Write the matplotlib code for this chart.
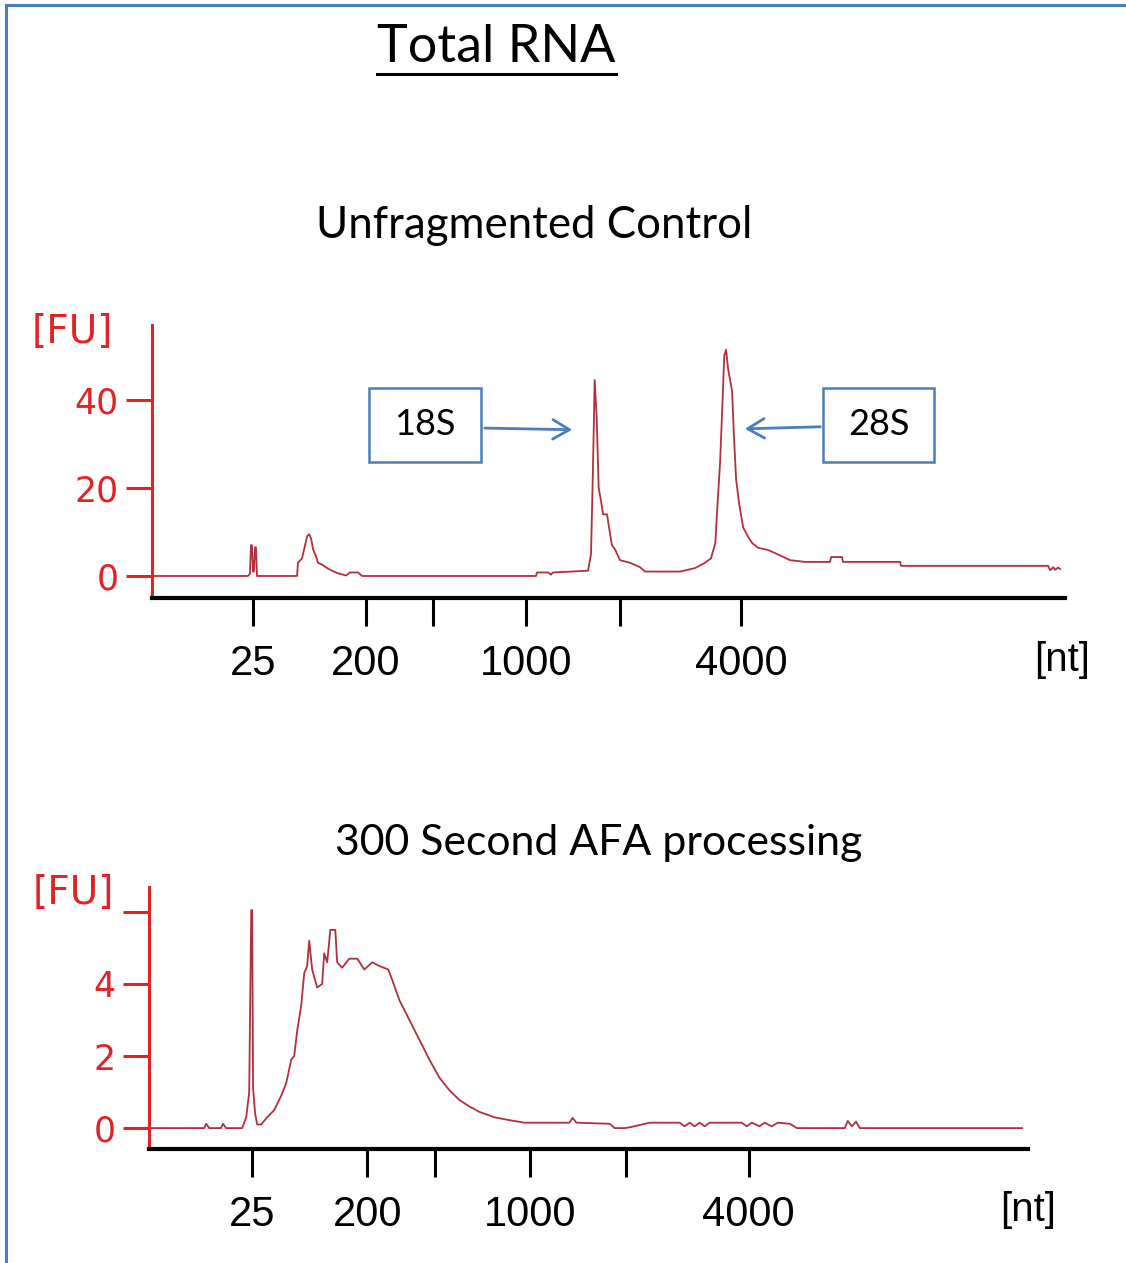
import matplotlib.pyplot as plt
from matplotlib.lines import Line2D
from matplotlib.patches import Rectangle

# ladder (migration time in s) and labels
ladder_t = [24.55, 30.76, 34.44, 39.55, 44.71, 51.36]
ladder_lbl = ['25', '200', '', '1000', '', '4000']

# unfragmented control trace: time [s], fluorescence [FU]
ctrl_t = [19.0, 24.27, 24.38, 24.44, 24.49, 24.55, 24.60, 24.66, 24.71, 24.77,
          26.97, 27.02, 27.24, 27.41, 27.52, 27.63, 27.74, 27.85, 28.01, 28.12,
          28.34, 28.62, 28.89, 29.16, 29.66, 29.88, 30.32, 30.54,
          40.10, 40.15, 40.76, 40.92, 41.03, 42.96, 43.12, 43.23, 43.32, 43.43,
          43.54, 43.67, 43.78, 44.0, 44.11, 44.27, 44.44, 44.71, 45.26, 45.81,
          46.09, 48.01, 48.84, 49.38, 49.71, 49.95, 50.05, 50.21, 50.32, 50.44,
          50.54, 50.65, 50.76, 50.87, 50.98, 51.09, 51.25, 51.48, 51.75, 51.97,
          52.30, 52.85, 53.23, 54.05, 54.88, 56.25, 56.31, 56.91, 56.96, 60.10,
          60.15, 68.23, 68.34, 68.51, 68.62, 68.78, 68.89]
ctrl_fu = [0, 0, 0.5, 7, 7, 1, 1, 6.5, 6.5, 0,
           0, 3, 4, 7, 9, 9.5, 8.5, 6, 4.5, 3,
           2.6, 1.8, 1.2, 0.7, 0.1, 0.8, 0.8, 0,
           0, 0.8, 0.8, 0.3, 0.8, 1.2, 5, 25, 44.5, 36,
           20, 17, 14, 14, 11, 7, 6, 3.6, 3, 2,
           1, 1, 1.8, 3, 4, 7.5, 15, 25.7, 37, 50,
           51.4, 47, 44.5, 42, 31, 22, 16.6, 11, 8.9, 7.5,
           6.4, 5.9, 5.2, 3.6, 3.2, 3.2, 4.3, 4.3, 3.2, 3.2,
           2.3, 2.3, 1.3, 2.0, 1.4, 1.9, 1.6]

# 300 s AFA processing trace
afa_t = [18.98, 21.96, 22.07, 22.23, 22.87, 22.98, 23.14, 24.01, 24.23, 24.39,
         24.50, 24.55, 24.60, 24.71, 24.82, 25.04, 25.36, 25.74, 26.12, 26.39,
         26.66, 26.82, 26.98, 27.2, 27.36, 27.52, 27.63, 27.79, 28.06, 28.33,
         28.44, 28.60, 28.77, 29.04, 29.14, 29.41, 29.79, 30.23, 30.60, 31.04,
         31.41, 31.9, 32.12, 32.5, 33.04, 33.58, 34.12, 34.66, 35.2, 35.74,
         36.28, 36.82, 37.63, 38.44, 39.25, 41.68, 41.85, 42.06, 43.85, 44.12,
         44.66, 44.93, 46.01, 47.63, 47.9, 48.17, 48.44, 48.71, 48.98, 49.25,
         50.98, 51.25, 51.52, 51.95, 52.22, 52.6, 52.93, 53.58, 53.96, 56.55,
         56.71, 56.93, 57.15, 57.36, 66.12]
afa_fu = [0, 0, 0.12, 0, 0, 0.12, 0, 0, 0.3, 1.0,
          6.05, 6.05, 1.1, 0.4, 0.1, 0.1, 0.3, 0.5, 0.9, 1.25,
          1.9, 2.0, 2.7, 3.4, 4.3, 4.5, 5.2, 4.4, 3.9, 4.0,
          4.85, 4.6, 5.5, 5.5, 4.6, 4.45, 4.7, 4.7, 4.4, 4.6,
          4.5, 4.4, 4.1, 3.55, 3.0, 2.45, 1.9, 1.4, 1.05, 0.78,
          0.6, 0.45, 0.3, 0.22, 0.15, 0.15, 0.28, 0.15, 0.12, 0.0,
          0.0, 0.02, 0.15, 0.15, 0.05, 0.15, 0.05, 0.15, 0.05, 0.15,
          0.15, 0.05, 0.15, 0.05, 0.15, 0.05, 0.15, 0.12, 0.0, 0.0,
          0.2, 0.05, 0.18, 0.0, 0.0]

W, H = 1126, 1263
RED = '#E02424'
TRACE = '#B3303A'
BLUE = '#4A7EBB'
XFONT = ['Liberation Sans', 'DejaVu Sans']
TFONT = ['Lato', 'DejaVu Sans']


def fx(px):
    return px / W


def fy(py):
    return 1 - py / H


fig = plt.figure(figsize=(W / 100, H / 100), dpi=100)


def style_axes(ax, yticks, ylabels):
    for s in ['top', 'right']:
        ax.spines[s].set_visible(False)
    ax.spines['left'].set_color(RED)
    ax.spines['left'].set_linewidth(2.2)
    ax.spines['bottom'].set_color('black')
    ax.spines['bottom'].set_linewidth(3)
    ax.set_yticks(yticks)
    ax.set_yticklabels(ylabels, color=RED, fontsize=25, family='DejaVu Sans')
    ax.tick_params(axis='y', direction='out', length=19, width=2.2, color=RED, pad=5)
    ax.set_xticks(ladder_t)
    ax.set_xticklabels(ladder_lbl, fontsize=30, family=XFONT)
    ax.tick_params(axis='x', direction='out', length=20, width=2.2, color='black', pad=13)
    ax.patch.set_visible(False)


# top panel
ax1 = fig.add_axes([fx(152), fy(598), fx(913), 273 / H])
ax1.plot(ctrl_t, ctrl_fu, color=TRACE, lw=1.3)
ax1.set_xlim(19.0, 69.16)
ax1.set_ylim(-5, 57)
style_axes(ax1, [0, 20, 40], ['0', '20', '40'])

arrow = dict(arrowstyle='->,head_length=1.2,head_width=0.7', color=BLUE, lw=2)
ax1.add_patch(Rectangle((30.9, 25.8), 6.2, 17, fill=False, ec=BLUE, lw=1.8))
ax1.text(34.0, 34.3, '18S', ha='center', va='center', fontsize=26, family=TFONT)
ax1.annotate('', xy=(42.24, 33.2), xytext=(37.13, 33.6), arrowprops=arrow)
ax1.add_patch(Rectangle((55.87, 25.8), 6.1, 17, fill=False, ec=BLUE, lw=1.8))
ax1.text(58.92, 34.3, '28S', ha='center', va='center', fontsize=26, family=TFONT)
ax1.annotate('', xy=(51.42, 33.4), xytext=(55.87, 33.9), arrowprops=arrow)

# bottom panel
ax2 = fig.add_axes([fx(149), fy(1149), fx(879), 262 / H])
ax2.plot(afa_t, afa_fu, color=TRACE, lw=1.3)
ax2.set_xlim(18.98, 66.44)
ax2.set_ylim(-0.58, 6.69)
style_axes(ax2, [0, 2, 4, 6], ['0', '2', '4', ''])

# texts
fig.text(fx(496), fy(48), 'Total RNA', ha='center', va='center', fontsize=37.5, family=TFONT)
fig.add_artist(Line2D([fx(377), fx(616)], [fy(74), fy(74)], color='black', lw=2.2))
fig.text(fx(534), fy(225), 'Unfragmented Control', ha='center', va='center', fontsize=31.5, family=TFONT)
fig.text(fx(599), fy(843), '300 Second AFA processing', ha='center', va='center', fontsize=30.8, family=TFONT)
fig.text(fx(72), fy(332), '[FU]', ha='center', va='center', fontsize=28, color=RED)
fig.text(fx(73), fy(893), '[FU]', ha='center', va='center', fontsize=28, color=RED)
fig.text(fx(1062), fy(660), '[nt]', ha='center', va='center', fontsize=29, family=XFONT)
fig.text(fx(1028), fy(1210), '[nt]', ha='center', va='center', fontsize=29, family=XFONT)

# blue frame (left and top edges)
fig.add_artist(Line2D([fx(6), fx(6)], [fy(5), 0], color=BLUE, lw=2.2))
fig.add_artist(Line2D([fx(6), 1], [fy(5), fy(5)], color=BLUE, lw=2.2))

fig.savefig('out.png', dpi=100)
